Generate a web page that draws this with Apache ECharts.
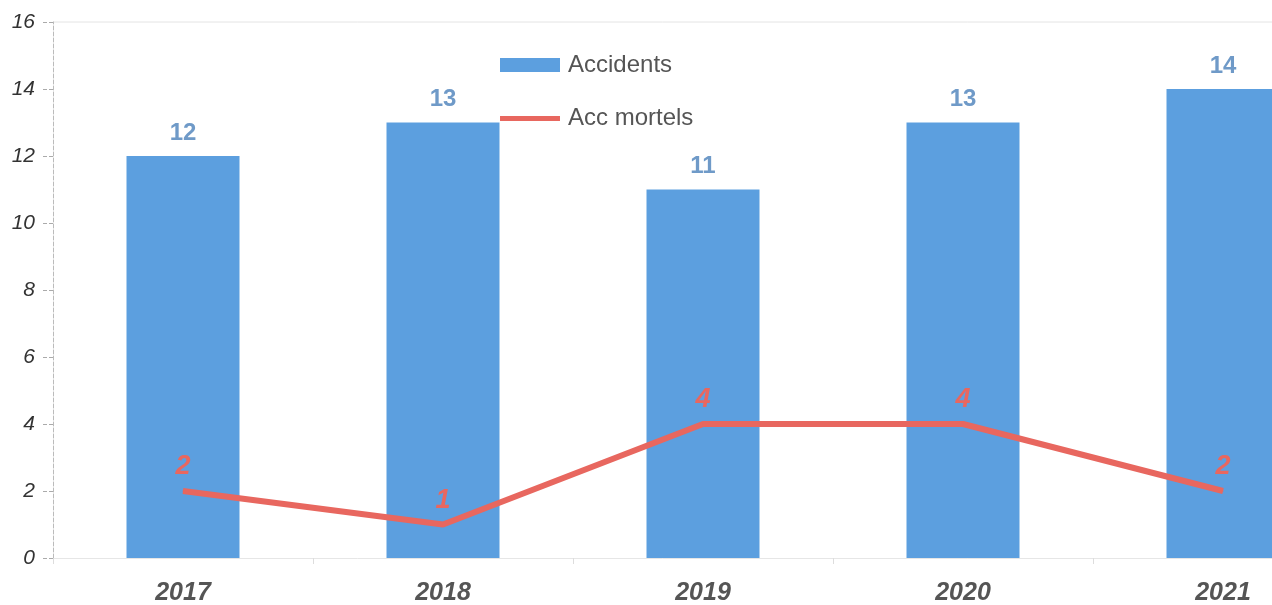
<!DOCTYPE html>
<html>
<head>
<meta charset="utf-8">
<script src="https://cdn.jsdelivr.net/npm/echarts@6/dist/echarts.min.js"></script>
<style>
  html, body { margin: 0; padding: 0; background: #fff; }
  #chart { width: 1272px; height: 605px; }
</style>
</head>
<body>
<div id="chart"></div>
<script>
// Accidents par année, et accidents mortels
const years = ['2017', '2018', '2019', '2020', '2021'];
const accidents = [12, 13, 11, 13, 14];
const accMortels = [2, 1, 4, 4, 2];
const yTicks = { min: 0, max: 16, interval: 2 };

const RED = '#e8675f';
const BLUE = '#5c9fdf';

const chart = echarts.init(document.getElementById('chart'));
chart.setOption({
  animation: false,
  backgroundColor: '#ffffff',
  textStyle: { fontFamily: 'Liberation Sans, Arial, sans-serif' },
  legend: {
    orient: 'vertical',
    left: 495,
    top: 48,
    itemWidth: 60,
    itemHeight: 14,
    itemGap: 29,
    textStyle: { fontSize: 24, color: '#555555', padding: [0, 0, 0, 3], fontFamily: 'Liberation Sans, Arial, sans-serif' },
    data: [
      { name: 'Accidents', icon: 'rect' },
      { name: 'Acc mortels', icon: 'path://M0,5H60V10H0Z M0,0H0.01V0.01H0Z M0,14H0.01V14.01H0Z', itemStyle: { color: RED } }
    ]
  },
  grid: { left: 53, top: 22, width: 1300, height: 536, containLabel: false, outerBoundsMode: 'none' },
  xAxis: {
    type: 'category',
    data: years,
    axisLine: { show: true, lineStyle: { color: '#e6e6e6', width: 1 } },
    axisTick: { show: true, length: 6, lineStyle: { color: '#dddddd' } },
    axisLabel: {
      margin: 23,
      fontSize: 25,
      fontWeight: 'bold',
      fontStyle: 'italic',
      color: '#555555'
    },
    splitLine: { show: false }
  },
  yAxis: {
    type: 'value',
    min: yTicks.min,
    max: yTicks.max,
    interval: yTicks.interval,
    axisLine: { show: true, lineStyle: { color: '#bbbbbb', width: 1, type: 'dashed' } },
    axisTick: { show: true, length: 12, lineStyle: { color: '#aaaaaa', type: 'dashed' } },
    axisLabel: {
      margin: 18,
      fontSize: 21,
      fontStyle: 'italic',
      color: '#333333'
    },
    splitLine: { show: false }
  },
  series: [
    {
      name: 'Accidents',
      type: 'bar',
      data: accidents,
      barWidth: 113,
      itemStyle: { color: BLUE },
      label: {
        show: true,
        position: 'top',
        distance: 11,
        fontSize: 24,
        fontWeight: 'bold',
        color: '#6f9ac8'
      }
    },
    {
      name: 'Acc mortels',
      type: 'line',
      data: accMortels,
      symbol: 'circle',
      symbolSize: 1,
      showSymbol: true,
      lineStyle: { color: RED, width: 6 },
      itemStyle: { color: RED },
      label: {
        show: true,
        position: 'top',
        distance: 10,
        fontSize: 27,
        fontWeight: 'bold',
        fontStyle: 'italic',
        color: RED
      }
    }
  ],
  graphic: [
    {
      type: 'line',
      shape: { x1: 53, y1: 22, x2: 1272, y2: 22 },
      style: { stroke: '#e4e4e4', lineWidth: 1 }
    }
  ]
});
</script>
</body>
</html>
